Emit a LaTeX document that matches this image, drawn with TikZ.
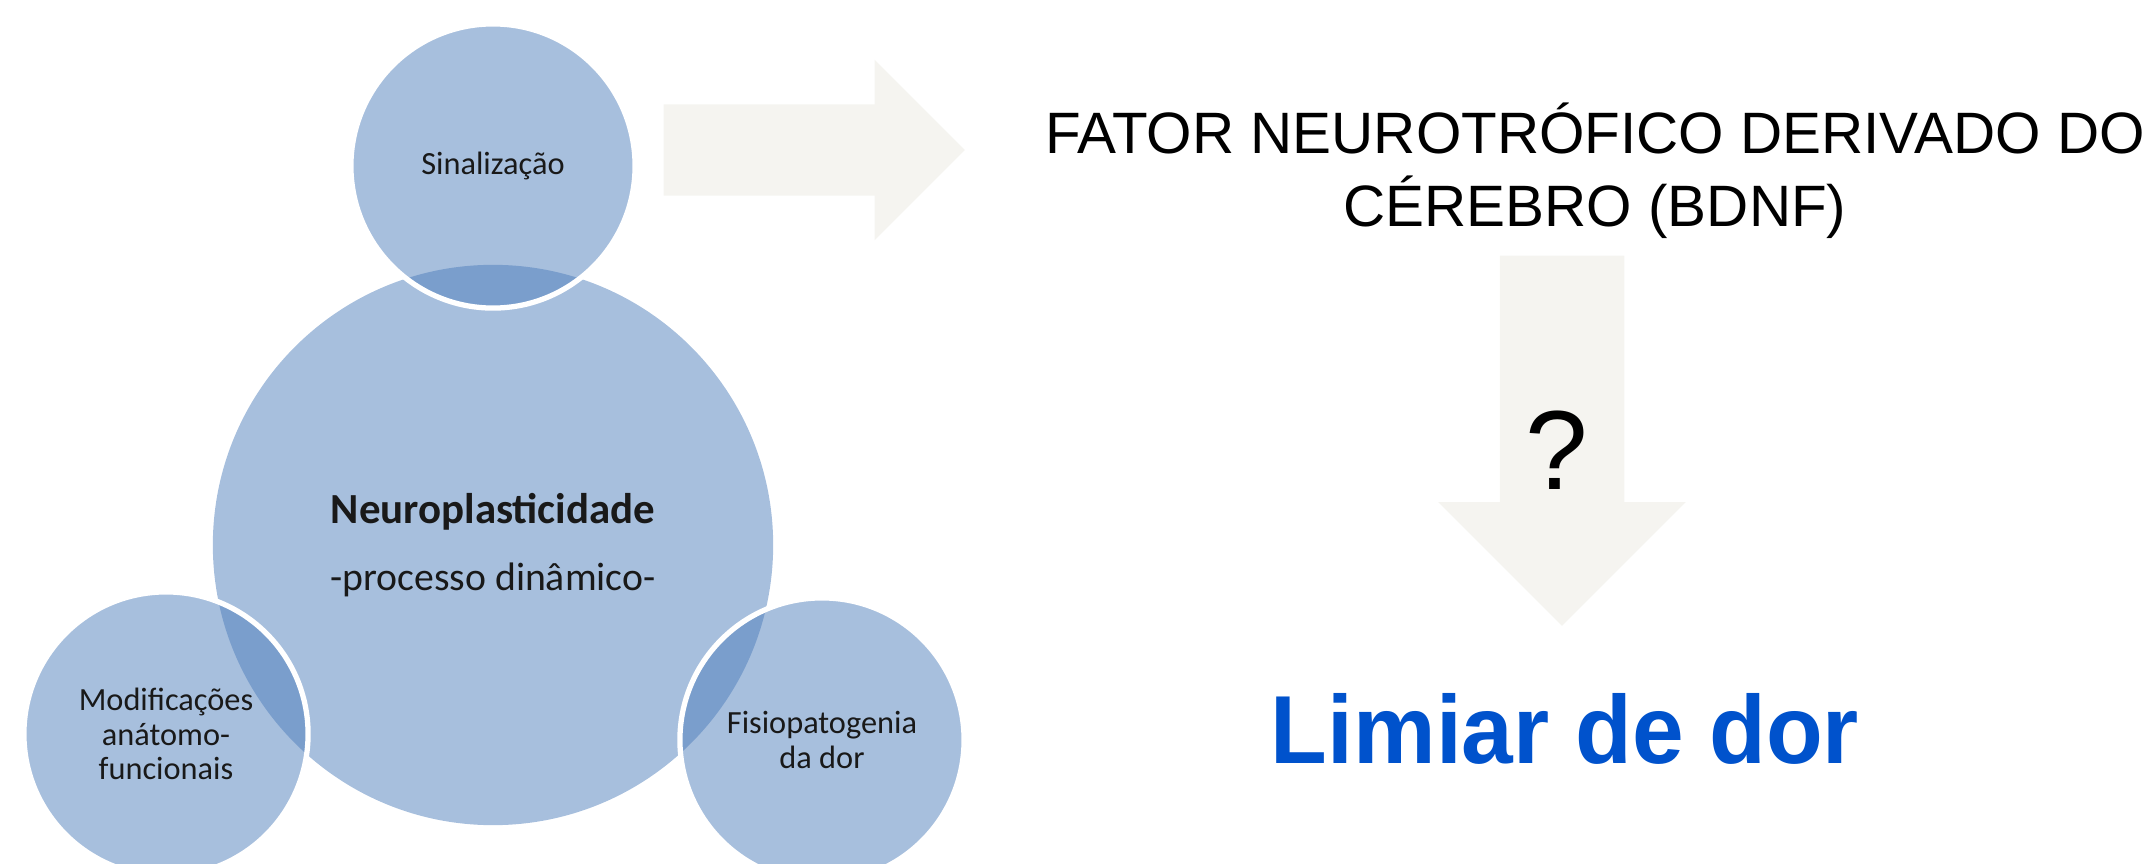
\documentclass[tikz,border=0pt]{standalone}
\usepackage{fontspec}
\setmainfont{Carlito}
\newfontfamily\arialfont{Liberation Sans}
\newfontfamily\limiarfont{Liberation Sans}[FakeStretch=0.96]
\usetikzlibrary{shapes.arrows, positioning, backgrounds}
\definecolor{azulclaro}{RGB}{167, 191, 221}
\definecolor{azulescuro}{RGB}{122, 158, 204}
\definecolor{setacinza}{RGB}{245, 244, 240}
\definecolor{textoescuro}{RGB}{25, 25, 25}
\definecolor{azullimiar}{RGB}{0, 82, 204}
\tikzset{
    bolha/.style={circle, minimum size=2.84cm, inner sep=0pt, align=center, text=textoescuro, font=\fontsize{9.2}{9.8}\selectfont},
    bolhagrande/.style={circle, minimum size=5.6cm, inner sep=0pt, align=center, text=textoescuro, font=\fontsize{12.2}{19}\selectfont},
    setabloco/.style={single arrow, fill=setacinza, inner xsep=0pt, anchor=tail},
    textofator/.style={font=\arialfont\fontsize{16.6}{20}\selectfont, anchor=base},
    interrogacao/.style={font=\arialfont\fontsize{32}{34}\selectfont, anchor=base},
    limiar/.style={font=\limiarfont\bfseries\fontsize{27.5}{30}\selectfont, text=azullimiar, anchor=base}
}

\begin{document}
\begin{tikzpicture}[x=0.01cm, y=-0.01cm]
    \useasboundingbox (0,0) rectangle (2152,864);

    \node (neuro) [bolhagrande] at (493,545) {\textbf{Neuroplasticidade}\\{\fontsize{11.3}{19}\selectfont -processo dinâmico-}};
    \node (sinal) [bolha] at (493,166) {Sinalização};
    \node (modif) [bolha] at (166,734) {Modificações\\anátomo-\\funcionais};
    \node (fisio) [bolha] at (822,740) {Fisiopatogenia\\da dor};

    % bolhas sobrepostas
    \begin{scope}[on background layer]
        \fill[azulclaro] (neuro.center) circle (2.8cm);
        \foreach \b in {sinal, modif, fisio}
            \fill[azulclaro] (\b.center) circle (1.42cm);
        \begin{scope}
            \clip (neuro.center) circle (2.8cm);
            \foreach \b in {sinal, modif, fisio}
                \fill[azulescuro] (\b.center) circle (1.42cm);
        \end{scope}
        \foreach \b in {sinal, modif, fisio}
            \draw[white, line width=1.5pt] (\b.center) circle (1.42cm);
    \end{scope}

    \node (setadireita) [setabloco, inner ysep=0.45cm, single arrow head extend=0.445cm, minimum height=3.01cm] at (663,150) {};

    \node (fator) [textofator] at (1595,154) {FATOR NEUROTRÓFICO DERIVADO DO};
    \node (cerebro) [textofator, below=0.72cm of fator.base, anchor=base] {CÉREBRO (BDNF)};

    \node (setabaixo) [setabloco, rotate=-90, inner ysep=0.615cm, single arrow head extend=0.615cm, minimum height=3.7cm] at (1562,255) {};
    \node (pergunta) [interrogacao] at (1557,489) {?};

    \node (dor) [limiar] at (1565,763) {Limiar de dor};
\end{tikzpicture}
\end{document}
